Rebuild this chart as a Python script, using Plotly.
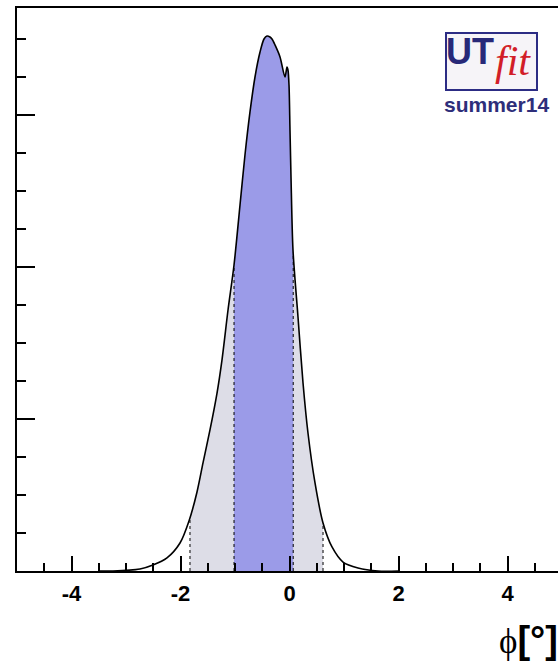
import numpy as np
import plotly.graph_objects as go

# ---- data ----
phi = [-3.500, -3.239, -2.743, -2.505, -2.248, -2.009, -1.844, -1.697, -1.587, -1.459,
       -1.330, -1.239, -1.128, -1.018, -0.908, -0.817, -0.725, -0.633, -0.541, -0.468,
       -0.413, -0.358, -0.321, -0.266, -0.174, -0.083, -0.046, -0.028, -0.009, 0.009,
       0.028, 0.064, 0.156, 0.248, 0.339, 0.468, 0.615, 0.780, 0.982, 1.257,
       1.624, 2.000]
pdf = [0.000, 0.000, 0.013, 0.039, 0.086, 0.184, 0.329, 0.520, 0.711, 0.928,
       1.171, 1.388, 1.717, 2.013, 2.408, 2.737, 3.020, 3.250, 3.414, 3.500,
       3.520, 3.513, 3.500, 3.461, 3.382, 3.250, 3.316, 3.296, 3.197, 2.901,
       2.586, 2.112, 1.671, 1.237, 0.908, 0.579, 0.316, 0.158, 0.059, 0.020,
       0.000, 0.000]
int68 = [-1.018, 0.068]
int95 = [-1.826, 0.615]
xtick_vals = [-4, -2, 0, 2, 4]
xtick_text = ["<b>-4</b>", "<b>-2</b>", "<b>0</b>", "<b>2</b>", "<b>4</b>"]

phi_a = np.array(phi)
pdf_a = np.array(pdf)


def band(lo, hi):
    inside = (phi_a > lo) & (phi_a < hi)
    xs = np.concatenate([[lo], phi_a[inside], [hi]])
    ys = np.concatenate([[np.interp(lo, phi_a, pdf_a)], pdf_a[inside], [np.interp(hi, phi_a, pdf_a)]])
    return xs, ys


W, H = 558, 662
L, R, T, B = 17, 0, 8, 91


def px(x):
    return (x - L) / (W - L - R)


def py(y):
    return (H - B - y) / (H - B - T)


fig = go.Figure()
gx, gy = band(*int95)
fig.add_trace(go.Scatter(x=gx, y=gy, mode="lines", line=dict(width=0, shape="spline", smoothing=0.8),
                         fill="tozeroy", fillcolor="rgb(221,221,231)", hoverinfo="skip"))
bx, by = band(*int68)
fig.add_trace(go.Scatter(x=bx, y=by, mode="lines", line=dict(width=0, shape="spline", smoothing=0.8),
                         fill="tozeroy", fillcolor="rgb(155,155,232)", hoverinfo="skip"))

vx, vy = [], []
for b in int95 + int68:
    vx += [b, b, None]
    vy += [0, float(np.interp(b, phi_a, pdf_a)), None]
fig.add_trace(go.Scatter(x=vx, y=vy, mode="lines",
                         line=dict(color="black", width=1, dash="dot"), hoverinfo="skip"))

fig.add_trace(go.Scatter(x=phi, y=pdf, mode="lines",
                         line=dict(color="black", width=1.6, shape="spline", smoothing=0.8)))

fig.update_layout(
    width=W, height=H, margin=dict(l=L, r=R, t=T, b=B),
    paper_bgcolor="white", plot_bgcolor="white", showlegend=False,
    xaxis=dict(range=[-5, -5 + (W - L - R) / 54.5], tickmode="array",
               tickvals=xtick_vals, ticktext=xtick_text,
               ticks="inside", ticklen=15, tickwidth=1.5, tickcolor="black",
               minor=dict(tickmode="linear", tick0=0, dtick=0.5, ticks="inside",
                          ticklen=8, tickwidth=1.5, tickcolor="black"),
               tickfont=dict(family="Liberation Sans, Arial", size=22, color="black"),
               ticklabelstandoff=2,
               showline=True, linecolor="black", linewidth=1.5, mirror=True,
               showgrid=False, zeroline=False),
    yaxis=dict(range=[0, (H - B - T) / 152.0], tickmode="linear", tick0=0, dtick=1,
               ticks="inside", ticklen=18, tickwidth=1.5, tickcolor="black",
               minor=dict(tickmode="linear", tick0=0, dtick=0.25, ticks="inside",
                          ticklen=9, tickwidth=1.5, tickcolor="black"),
               showticklabels=False,
               showline=True, linecolor="black", linewidth=1.5, mirror=False,
               showgrid=False, zeroline=False),
)

# UTfit logo
fig.add_shape(type="rect", xref="paper", yref="paper",
              x0=px(446), x1=px(537), y0=py(90), y1=py(33),
              line=dict(color="rgb(44,44,132)", width=2), fillcolor="rgb(246,244,248)")
fig.add_annotation(xref="paper", yref="paper", x=px(470), y=py(51), text="<b>UT</b>",
                   showarrow=False, xanchor="center", yanchor="middle",
                   font=dict(family="Liberation Sans, Arial", size=36,
                             color="rgb(40,40,120)"))
fig.add_annotation(xref="paper", yref="paper", x=px(513), y=py(61), text="<i>fit</i>",
                   showarrow=False, xanchor="center", yanchor="middle",
                   font=dict(family="Liberation Serif, Times New Roman", size=42,
                             color="rgb(210,30,40)"))
fig.add_annotation(xref="paper", yref="paper", x=px(496), y=py(104), text="<b>summer14</b>",
                   showarrow=False, xanchor="center", yanchor="middle",
                   font=dict(family="Liberation Sans, Arial", size=21, color="rgb(46,46,122)"))

# axis title
fig.add_annotation(xref="paper", yref="paper", x=px(497), y=py(640),
                   text="<span style='font-family:Liberation Serif, DejaVu Serif;font-size:35px'>ϕ</span><b>[°]</b>",
                   showarrow=False, xanchor="left", yanchor="middle",
                   font=dict(family="Liberation Sans, Arial", size=38, color="black"))

fig.write_html("out.html", post_script="document.body.style.margin='0';",
               config={"displayModeBar": False})
